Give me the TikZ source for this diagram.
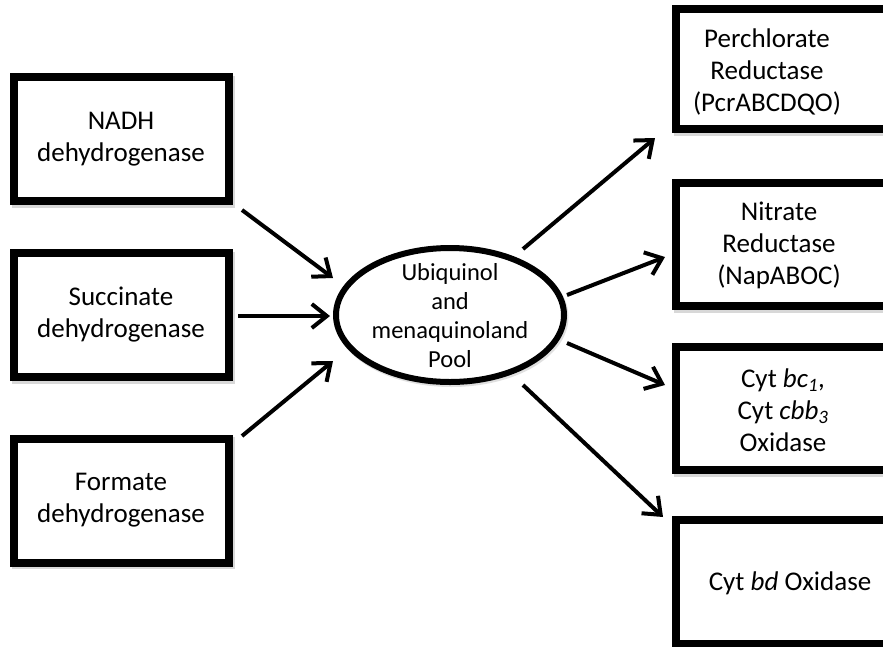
\documentclass[tikz,border=0pt]{standalone}
\usepackage{fontspec}
\setmainfont{Carlito}
\usetikzlibrary{arrows.meta,shadows,shapes.geometric}
\begin{document}
\begin{tikzpicture}[x=1pt,y=-1pt,
  enzbox/.style={draw=black, line width=8pt, fill=white, inner sep=0pt,
    drop shadow={shadow xshift=2pt, shadow yshift=-2.5pt, opacity=0.25,
      fill=black!60, draw=black!60, line width=8pt}},
  poolshape/.style={ellipse, draw=black, line width=6pt, fill=white, inner sep=0pt,
    minimum width=228pt, minimum height=134pt,
    drop shadow={shadow xshift=1.5pt, shadow yshift=-2pt, opacity=0.2,
      fill=black!60, draw=black!60, line width=6pt}},
  lbl/.style={font=\fontsize{27}{32}\selectfont, align=center},
  poollbl/.style={font=\fontsize{24.5}{29}\selectfont, align=center, inner sep=0pt},
  arr/.style={line width=4pt, -{Straight Barb[length=15pt,width=24pt]}}]
\useasboundingbox (0,0) rectangle (883,646);
\clip (0,0) rectangle (883,646);
\fill[white] (0,0) rectangle (883,646);

% left boxes
\node[enzbox, lbl, minimum width=215pt, minimum height=124pt] (nadh) at (121,139) {NADH\\dehydrogenase};
\node[enzbox, lbl, minimum width=215pt, minimum height=124pt] (succ) at (121,315) {Succinate\\dehydrogenase};
\node[enzbox, lbl, minimum width=215pt, minimum height=124pt] (form) at (121,500.5) {Formate\\dehydrogenase};

% right boxes (cut off at the right edge)
\node[enzbox, minimum width=284pt, minimum height=120pt] (perch) at (818,69) {};
\node[enzbox, minimum width=284pt, minimum height=123pt] (nitr) at (818,244.5) {};
\node[enzbox, minimum width=284pt, minimum height=123pt] (cbc) at (818,408.5) {};
\node[enzbox, minimum width=284pt, minimum height=124pt] (cbd) at (818,582) {};
\node[lbl, inner sep=0pt] (perchT) at (767,72) {Perchlorate\\Reductase\\(PcrABCDQO)};
\node[lbl, inner sep=0pt] (nitrT) at (779,245) {Nitrate\\Reductase\\(NapABOC)};
\node[lbl, inner sep=0pt] (cbcT) at (783,410) {Cyt \textit{bc\textsubscript{1}},\\Cyt \textit{cbb\textsubscript{3}}\\Oxidase};
\node[lbl, inner sep=0pt] (cbdT) at (790,583) {Cyt \textit{bd} Oxidase};

% pool
\node[poolshape] (pool) at (450,315) {};
\node[poollbl] (poolT) at (450,316) {Ubiquinol\\and\\menaquinoland\\Pool};

% arrow end points
\coordinate (a1s) at (242,210); \coordinate (a1e) at (333,278);
\coordinate (a2s) at (238,316); \coordinate (a2e) at (330,316);
\coordinate (a3s) at (242,436); \coordinate (a3e) at (333,361);
\coordinate (b1s) at (523,249); \coordinate (b1e) at (655,138);
\coordinate (b2s) at (567,295); \coordinate (b2e) at (665,257);
\coordinate (b3s) at (567,343); \coordinate (b3e) at (665,385);
\coordinate (b4s) at (523,385); \coordinate (b4e) at (663,517);

\draw[arr] (a1s) -- (a1e);
\draw[arr] (a2s) -- (a2e);
\draw[arr] (a3s) -- (a3e);
\draw[arr] (b1s) -- (b1e);
\draw[arr] (b2s) -- (b2e);
\draw[arr] (b3s) -- (b3e);
\draw[arr] (b4s) -- (b4e);
\end{tikzpicture}
\end{document}
